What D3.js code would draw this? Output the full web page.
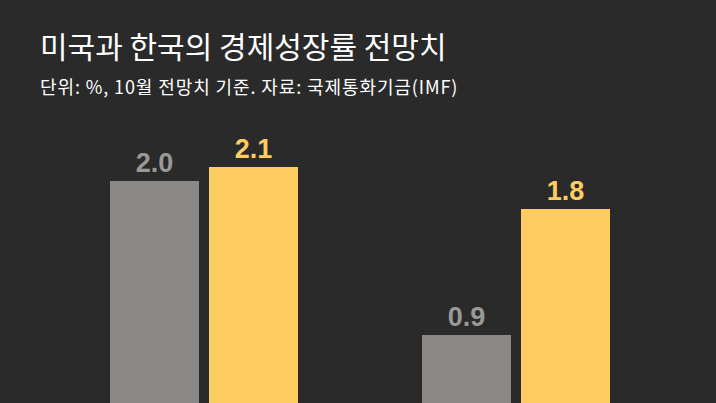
<!DOCTYPE html>
<html><head><meta charset="utf-8">
<script src="https://cdn.jsdelivr.net/npm/d3@7"></script>
<style>body{margin:0;background:#2a2a2a}</style>
</head><body>
<svg id="chart"></svg>
<script>
var categories = ["2024", "2025"];
var series = ["미국", "한국"];
var usValues = [2.0, 0.9];
var krValues = [2.1, 1.8];
var colors = ["#8b8886", "#fdcd62"];
var labelColors = ["#9b9997", "#fdcd62"];

var width = 716, height = 403;
var svg = d3.select("#chart").attr("width", width).attr("height", height);
svg.append("rect").attr("width", width).attr("height", height).attr("fill", "#2a2a2a");

svg.append("text").attr("x", 40).attr("y", 58)
    .attr("fill", "#fff").attr("font-family", "Noto Sans CJK KR").attr("font-size", 30)
    .text("미국과 한국의 경제성장률 전망치");
svg.append("text").attr("x", 40).attr("y", 94)
    .attr("fill", "#fff").attr("font-family", "Noto Sans CJK KR").attr("font-size", 18)
    .attr("letter-spacing", 0.9)
    .text("단위: %, 10월 전망치 기준.  자료: 국제통화기금(IMF)");

var x0 = d3.scaleBand().domain(categories).range([110, 610]).paddingInner(124 / 312).paddingOuter(0);
var x1 = d3.scaleBand().domain(series).range([0, x0.bandwidth()]).paddingInner(10 / 99).paddingOuter(0);
var y = d3.scaleLinear().domain([0, 2]).range([461, 181]);

var data = [];
categories.forEach(function(c, i){
    data.push({cat: c, s: 0, v: usValues[i]});
    data.push({cat: c, s: 1, v: krValues[i]});
});

var g = svg.selectAll(".bar").data(data).enter().append("g");
g.append("rect")
    .attr("x", function(d){ return x0(d.cat) + x1(series[d.s]); })
    .attr("y", function(d){ return y(d.v); })
    .attr("width", x1.bandwidth())
    .attr("height", function(d){ return y(0) - y(d.v); })
    .attr("fill", function(d){ return colors[d.s]; });
g.append("text")
    .attr("x", function(d){ return x0(d.cat) + x1(series[d.s]) + x1.bandwidth()/2; })
    .attr("y", function(d){ return y(d.v) - 9; })
    .attr("text-anchor", "middle")
    .attr("font-family", "Liberation Sans").attr("font-weight", "bold").attr("font-size", 27)
    .attr("fill", function(d){ return labelColors[d.s]; })
    .text(function(d){ return d.v.toFixed(1); });
</script>
</body></html>
